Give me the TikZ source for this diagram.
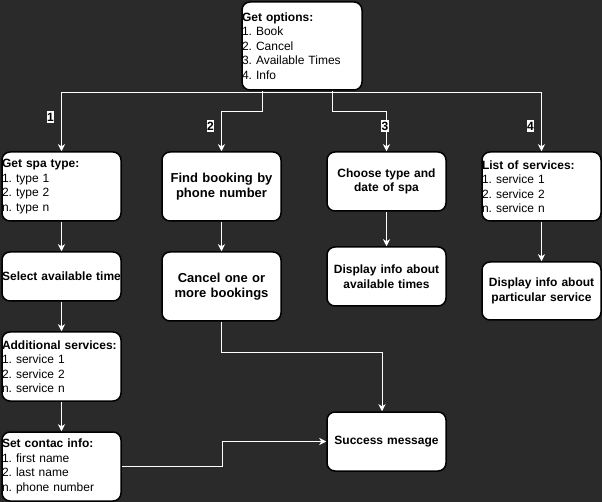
\documentclass[tikz,border=0pt]{standalone}
\usepackage{fontspec}
\setmainfont{Liberation Sans}
\usetikzlibrary{arrows.meta}
\definecolor{darkbg}{HTML}{2A2A2A}
\frenchspacing

\begin{document}
\begin{tikzpicture}[x=1pt,y=-1pt,
  box/.style={draw=black,line width=1.5pt,fill=white,rounded corners=8pt,
    minimum width=119pt,text width=119pt,inner xsep=0pt,inner ysep=0pt,
    font=\fontsize{12}{14.5}\selectfont},
  listbox/.style={box,align=left},
  textbox/.style={box,align=center,font=\fontsize{12}{14.5}\selectfont\bfseries},
  bigbox/.style={box,align=center,font=\fontsize{13}{15.5}\selectfont\bfseries},
  flow/.style={draw=white,line width=1pt,-{Stealth[length=7pt,width=7pt,inset=2pt]}},
  numlabel/.style={fill=white,text=black,inner xsep=0.5pt,inner ysep=1.5pt,font=\fontsize{12}{12}\selectfont\bfseries}]

% Background
\fill[darkbg] (0,0) rectangle (602,502);

% Options menu
\node[listbox,minimum width=120pt,text width=120pt,minimum height=88pt] (opts) at (302,46)
  {\textbf{Get options:}\\1. Book\\2. Cancel\\3. Available Times\\4. Info};

% Branch 1: booking
\node[listbox,minimum height=69pt] (spa) at (61.5,186.5)
  {\textbf{Get spa type:}\\1. type 1\\2. type 2\\n. type n};
\node[textbox,minimum height=49pt] (time) at (61.5,276.5) {Select available time};
\node[listbox,minimum height=69pt] (extra) at (61.5,366.5)
  {\textbf{Additional services:}\\1. service 1\\2. service 2\\n. service n};
\node[listbox,minimum height=69pt] (contact) at (61.5,466.5)
  {\textbf{Set contac info:}\\1. first name\\2. last name\\n. phone number};

% Branch 2: cancel
\node[bigbox,minimum height=69pt] (find) at (221.5,186.5) {Find booking by\\phone number};
\node[bigbox,minimum height=69pt] (cancel) at (221.5,286.5) {Cancel one or\\more bookings};

% Branch 3: available times
\node[textbox,minimum height=59pt] (choose) at (386.5,181.5) {Choose type and\\date of spa};
\node[textbox,minimum height=59pt] (avail) at (386.5,276.5) {Display info about\\available times};

% Branch 4: info
\node[listbox,minimum height=69pt] (list) at (541.5,186.5)
  {\textbf{List of services:}\\1. service 1\\2. service 2\\n. service n};
\node[textbox,minimum height=58pt] (about) at (541.5,291) {Display info about\\particular service};

% Result
\node[textbox,minimum height=59pt] (success) at (386.5,441.5) {Success message};

% Arrows from options
\draw[flow] ([yshift=-1.5pt]opts.south) -| (spa.north);
\draw[flow] ([xshift=-40pt]opts.south) -- ++(0,21) -| (find.north);
\draw[flow] ([xshift=30pt]opts.south) -- ++(0,21) -| (choose.north);
\draw[flow] ([yshift=-1.5pt]opts.south) -| (list.north);

% Option numbers
\node[numlabel] (n1) at (50.5,117) {1};
\node[numlabel] (n2) at (210.5,126) {2};
\node[numlabel] (n3) at (385,126) {3};
\node[numlabel] (n4) at (530.5,126) {4};

% Arrows down each branch
\draw[flow] (spa) -- (time);
\draw[flow] (time) -- (extra);
\draw[flow] (extra) -- (contact);
\draw[flow] (find) -- (cancel);
\draw[flow] (choose) -- (avail);
\draw[flow] (list) -- (about);

% Arrows to success
\draw[flow] (contact.east) -- ++(101,0) |- (success.west);
\draw[flow] (cancel.south) -- ++(0,31) -| ([xshift=-4.5pt]success.north);

\end{tikzpicture}
\end{document}
